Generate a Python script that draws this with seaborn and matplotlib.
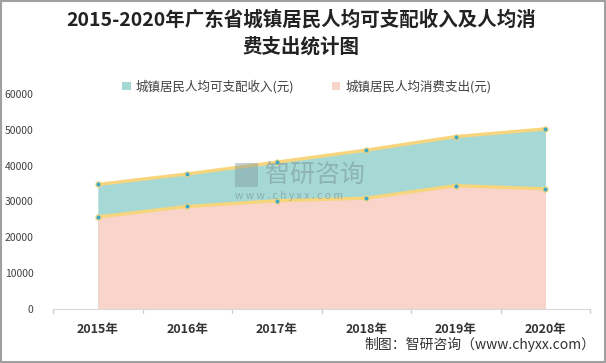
import matplotlib
matplotlib.use("Agg")
import matplotlib.pyplot as plt
import seaborn as sns
import pandas as pd
from matplotlib.patches import Rectangle

years = ["2015年", "2016年", "2017年", "2018年", "2019年", "2020年"]
income = [34757, 37684, 40975, 44341, 48118, 50257]
consumption = [25673, 28613, 30198, 30924, 34424, 33511]
income_label = "城镇居民人均可支配收入(元)"
consumption_label = "城镇居民人均消费支出(元)"
y_ticks = [0, 10000, 20000, 30000, 40000, 50000, 60000]

TEAL = "#a6d9d5"
PINK = "#f8d4cb"
LINE = "#f6d57c"
DOT = "#3aa9c9"
WM = "#7f9aa0"

sns.set_style("white")
plt.rcParams["font.family"] = ["Noto Sans CJK SC", "DejaVu Sans"]

df = pd.DataFrame({"year": years, "income": income, "consumption": consumption})
df["x"] = range(len(df))

fig = plt.figure(figsize=(6.06, 3.63), dpi=100)
ax = fig.add_axes([0.0875, 0.149, 0.8865, 0.592])

ax.fill_between(df["x"], 0, df["income"], color=TEAL, lw=0, label=income_label)
ax.fill_between(df["x"], 0, df["consumption"], color=PINK, lw=0, label=consumption_label)
for col in ["income", "consumption"]:
    sns.lineplot(data=df, x="x", y=col, ax=ax, color=LINE, lw=2.4, zorder=3)
    sns.scatterplot(data=df, x="x", y=col, ax=ax, color=DOT, s=14,
                    edgecolor=LINE, linewidth=0.8, zorder=4)

ax.set_xlim(-0.5, len(years) - 0.5)
ax.set_ylim(0, 60000)
ax.set_yticks(y_ticks)
ax.set_yticklabels([str(v) for v in y_ticks], fontsize=7.5, color="#404040")
ax.set_xticks(df["x"])
ax.set_xticklabels(years, fontsize=9, fontweight="bold", color="#333333")
ax.set_xlabel("")
ax.set_ylabel("")
ax.tick_params(axis="x", length=0, pad=10)
ax.tick_params(axis="y", length=0, pad=14)
# little tick marks between categories
for b in [i - 0.5 for i in range(len(years) + 1)]:
    ax.plot([b, b], [0, -1200], color="#d0d0d0", lw=1, clip_on=False)
for s in ["top", "right", "left"]:
    ax.spines[s].set_visible(False)
ax.spines["bottom"].set_color("#d9d9d9")
ax.grid(False)

# watermark
ax.add_patch(Rectangle((0.339, 0.567), 0.043, 0.11, transform=ax.transAxes,
                       color=WM, alpha=0.45, lw=0, zorder=5))
ax.text(0.395, 0.623, "智研咨询", transform=ax.transAxes, fontsize=18, color=WM,
        alpha=0.6, ha="left", va="center", zorder=5)
ax.text(0.339, 0.526, "w w w . c h y x x . c o m", transform=ax.transAxes, fontsize=7.5,
        color=WM, alpha=0.7, ha="left", va="center", zorder=5)

leg = ax.legend(loc="center", bbox_to_anchor=(0.472, 1.035), ncol=2, frameon=False,
                fontsize=9, handlelength=0.7, handleheight=0.7, columnspacing=3,
                handletextpad=0.4)
for t in leg.get_texts():
    t.set_color("#404040")

fig.text(0.497, 0.945, "2015-2020年广东省城镇居民人均可支配收入及人均消",
         ha="center", va="center", fontsize=14, fontweight="bold", color="#222222")
fig.text(0.497, 0.870, "费支出统计图",
         ha="center", va="center", fontsize=14, fontweight="bold", color="#222222")
fig.text(0.982, 0.03, "制图：智研咨询（www.chyxx.com）", ha="right", va="bottom",
         fontsize=10, color="#333333")

fig.patches.append(Rectangle((0.001, 0.002), 0.997, 0.995, transform=fig.transFigure,
                             fill=False, edgecolor="#a0a0a0", lw=1.5))

fig.savefig("out.png", dpi=100)
